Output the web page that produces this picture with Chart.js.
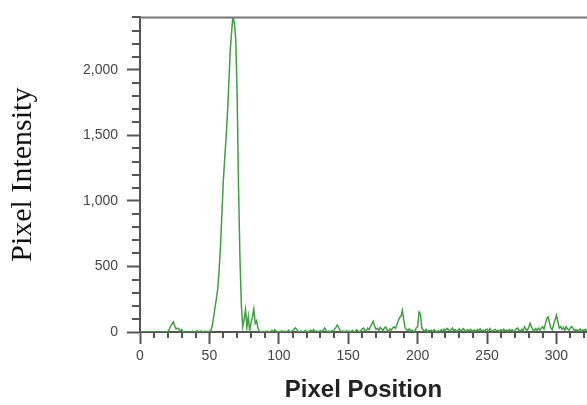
<!DOCTYPE html>
<html>
<head>
<meta charset="utf-8">
<title>Pixel Intensity</title>
<script src="https://cdn.jsdelivr.net/npm/chart.js@4/dist/chart.umd.min.js"></script>
<style>
  html, body { margin: 0; padding: 0; background: #fff; }
  canvas { display: block; }
</style>
</head>
<body>
<canvas id="profileChart" width="587" height="405"></canvas>
<script>
// intensity, one value per pixel position 0..322
const intensity = [
  0, 0, 0, 0, 0, 0, 0, 0, 0, 0,
  0, 0, 0, 0, 0, 0, 0, 0, 0, 0,
  4, 18, 42, 60, 78, 48, 22, 30, 24, 8,
  18, 4, 0, 0, 0, 0, 0, 0, 6, 0,
  0, 10, 0, 0, 8, 2, 0, 6, 0, 0,
  4, 12, 45, 110, 185, 250, 330, 470, 660, 900,
  1150, 1320, 1480, 1660, 1900, 2150, 2290, 2420, 2350, 2230,
  1790, 1100, 560, 210, 40, 95, 172, 35, 120, 8,
  70, 115, 175, 65, 85, 30, 6, 0, 4, 0,
  0, 6, 0, 2, 0, 12, 0, 18, 8, 0,
  4, 0, 10, 0, 6, 0, 0, 14, 0, 4,
  10, 22, 32, 18, 4, 0, 8, 0, 2, 12,
  0, 6, 0, 14, 4, 18, 0, 8, 0, 4,
  10, 2, 16, 30, 12, 0, 6, 0, 10, 4,
  18, 34, 52, 38, 14, 0, 8, 0, 4, 10,
  0, 6, 0, 12, 2, 0, 16, 8, 0, 10,
  22, 30, 14, 6, 30, 18, 40, 60, 82, 45,
  20, 28, 12, 35, 22, 8, 30, 38, 15, 6,
  22, 14, 30, 40, 28, 52, 86, 110, 120, 165,
  90, 32, 18, 10, 24, 6, 14, 0, 8, 30,
  40, 152, 140, 30, 16, 6, 20, 4, 12, 8,
  14, 4, 18, 6, 0, 10, 2, 16, 6, 22,
  12, 28, 20, 6, 14, 30, 10, 18, 4, 12,
  24, 8, 16, 26, 10, 4, 18, 8, 20, 12,
  6, 16, 2, 20, 10, 24, 8, 14, 6, 18,
  22, 4, 26, 10, 6, 16, 20, 8, 12, 4,
  18, 6, 22, 10, 14, 4, 20, 8, 16, 2,
  12, 24, 30, 14, 6, 20, 10, 40, 22, 10,
  35, 67, 40, 18, 8, 26, 12, 30, 14, 28,
  40, 22, 60, 100, 115, 70, 30, 18, 60, 90,
  128, 80, 30, 42, 20, 34, 12, 40, 22, 14,
  30, 42, 26, 10, 18, 6, 14, 22, 8, 16,
  10, 20, 8
];
const positions = intensity.map((v, i) => i);

const xRange = [0, 322];
const yRange = [0, 2400];
const xTickValues = [0, 50, 100, 150, 200, 250, 300];
const yTickValues = [0, 500, 1000, 1500, 2000];
const xMinorStep = 10;
const yMinorStep = 100;

const axisColor = '#555';
const labelColor = '#444';

// short minor ticks plus the top frame line
const minorTicks = {
  id: 'minorTicks',
  afterDraw(chart) {
    const { ctx, chartArea, scales: { x, y } } = chart;
    ctx.save();
    ctx.strokeStyle = axisColor;
    ctx.lineWidth = 2;
    ctx.beginPath();
    for (let v = xRange[0] + xMinorStep; v <= xRange[1]; v += xMinorStep) {
      if (xTickValues.includes(v)) continue;
      const px = Math.round(x.getPixelForValue(v));
      ctx.moveTo(px, chartArea.bottom);
      ctx.lineTo(px, chartArea.bottom + 6);
    }
    for (let v = yRange[0] + yMinorStep; v <= yRange[1]; v += yMinorStep) {
      if (yTickValues.includes(v)) continue;
      const py = Math.round(y.getPixelForValue(v));
      ctx.moveTo(chartArea.left - 8, py);
      ctx.lineTo(chartArea.left, py);
    }
    ctx.stroke();
    ctx.strokeStyle = '#777';
    ctx.beginPath();
    ctx.moveTo(chartArea.left, chartArea.top);
    ctx.lineTo(chartArea.right, chartArea.top);
    ctx.stroke();
    ctx.restore();
  }
};

const ctx = document.getElementById('profileChart').getContext('2d');
new Chart(ctx, {
  type: 'line',
  data: {
    datasets: [{
      label: 'Pixel Intensity',
      data: positions.map((p, i) => ({ x: p, y: intensity[i] })),
      borderColor: '#3f9f3f',
      borderWidth: 1.5,
      pointRadius: 0,
      tension: 0,
      fill: false
    }]
  },
  options: {
    responsive: false,
    animation: false,
    devicePixelRatio: 1,
    layout: { padding: { top: 12, right: 0, left: 0, bottom: 0 } },
    plugins: { legend: { display: false }, tooltip: { enabled: false } },
    scales: {
      x: {
        type: 'linear',
        min: xRange[0],
        max: xRange[1],
        z: 1,
        afterBuildTicks: s => { s.ticks = xTickValues.map(v => ({ value: v })); },
        afterFit: s => { s.height = 73; },
        border: { color: axisColor, width: 2 },
        grid: { drawOnChartArea: false, tickLength: 12, tickColor: axisColor, tickWidth: 2 },
        ticks: {
          maxRotation: 0,
          autoSkip: false,
          padding: 4,
          color: labelColor,
          font: { family: '"Liberation Sans", Arial, sans-serif', size: 14 }
        },
        title: {
          display: true,
          text: 'Pixel Position',
          color: '#222',
          padding: { top: 0, bottom: 0 },
          font: { family: '"Liberation Sans", Arial, sans-serif', size: 24, weight: 'bold' }
        }
      },
      y: {
        min: yRange[0],
        max: yRange[1],
        z: 1,
        afterBuildTicks: s => { s.ticks = yTickValues.map(v => ({ value: v })); },
        afterFit: s => { s.width = 140; },
        border: { color: axisColor, width: 2 },
        grid: { drawOnChartArea: false, tickLength: 13, tickColor: axisColor, tickWidth: 2 },
        ticks: {
          autoSkip: false,
          padding: 9,
          color: labelColor,
          font: { family: '"Liberation Sans", Arial, sans-serif', size: 14 }
        },
        title: {
          display: true,
          text: 'Pixel Intensity',
          color: '#111',
          padding: { top: 5, bottom: 0 },
          font: { family: '"Liberation Serif", "Times New Roman", serif', size: 30 }
        }
      }
    }
  },
  plugins: [minorTicks]
});
</script>
</body>
</html>
